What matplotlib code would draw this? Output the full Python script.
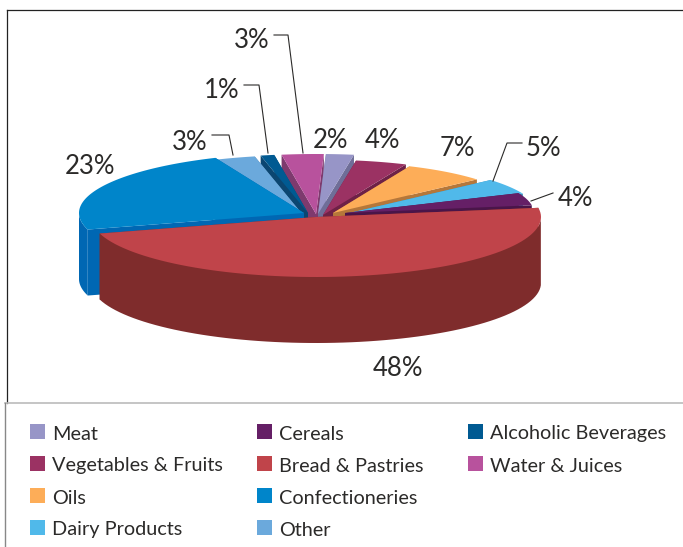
import numpy as np
import matplotlib
matplotlib.use('Agg')
import matplotlib.pyplot as plt

# values in percent, clockwise from the top
categories = ['Meat', 'Vegetables & Fruits', 'Oils', 'Dairy Products', 'Cereals',
              'Bread & Pastries', 'Confectioneries', 'Other', 'Alcoholic Beverages',
              'Water & Juices']
values = [2, 4, 7, 5, 4, 48, 23, 3, 1, 3]

colors = ['#9795C7', '#9B3263', '#FDAD58', '#50B9EA', '#651F66',
          '#C0444A', '#0085CA', '#6BA9DC', '#005A92', '#B8529D']
sides = ['#6F6E98', '#6E2147', '#B5773A', '#3A8FB8', '#4A1549',
         '#7F2C2C', '#0067B3', '#5A86AE', '#0B4671', '#7E3A6E']
# how far each slice is pulled out of the pie, in pixels, and its size
offsets = [(2, 1), (7, 2), (17, 0), (29, 1), (29, 0),
           (0, 4), (-12, 0), (-13, 2), (-8, 0), (0, 1)]
scales = [1, 0.92, 0.85, 0.86, 0.84, 1, 1, 1, 0.98, 1]

cx, cy = 316, 213
rx, ry = 225, 60
depth = 66
start_angle = 2

fig = plt.figure(figsize=(6.83, 5.47), dpi=100)
plt.rcParams['font.family'] = ['Lato', 'DejaVu Sans']
ax = fig.add_axes([0, 0, 1, 1])
ax.set_xlim(0, 683)
ax.set_ylim(547, 0)
ax.axis('off')


def rim(a, ox, oy, k):
    t = np.radians(a)
    return ox + k * rx * np.sin(t), oy - k * ry * np.cos(t)


ends = np.cumsum(values) * 3.6 + start_angle
starts = ends - np.array(values) * 3.6
order = np.argsort([-np.cos(np.radians((s + e) / 2)) for s, e in zip(starts, ends)])

for pos, i in enumerate(order):
    s, e = starts[i], ends[i]
    k = scales[i]
    ox, oy = cx + offsets[i][0], cy + offsets[i][1]
    a = np.linspace(s, e, 80)
    x, y = rim(a, ox, oy, k)
    z = 1 + pos * 0.01
    # radial walls first, then the outer wall
    for end_a in (s, e):
        px, py = rim(end_a, ox, oy, k)
        ax.fill([ox, px, px, ox], [oy, py, py + depth, oy + depth],
                color=sides[i], lw=0, zorder=z)
    front = np.cos(np.radians(a)) < 0
    if front.any():
        fx, fy = x[front], y[front]
        ax.fill(np.r_[fx, fx[::-1]], np.r_[fy, fy[::-1] + depth],
                color=sides[i], lw=0, zorder=z)
    ax.fill(np.r_[ox, x], np.r_[oy, y], color=colors[i], lw=0, zorder=z + 0.001)

# percent labels
label_xy = [(331, 141), (382, 141), (457, 149), (543, 148), (575, 199),
            (398, 369), (90, 166), (190, 142), (222, 91), (252, 41)]
for v, (x, y) in zip(values, label_xy):
    ax.text(x, y, f'{v}%', fontsize=18.5, color='#2b2a29', ha='center', va='center', zorder=5)

# leader lines
leaders = [([212, 229, 233], [135, 135, 155]),
           ([244, 259, 268], [85, 85, 153]),
           ([274, 288, 303], [35, 35, 153]),
           ([522, 507, 493], [143, 143, 181]),
           ([553, 531], [193, 201])]
for lx, ly in leaders:
    ax.plot(lx, ly, color='#2b2a29', lw=0.8, zorder=5)

# frame
ax.plot([7, 7], [10, 403], color='#222222', lw=0.9)
ax.plot([7, 683], [10, 10], color='#222222', lw=0.9)
ax.plot([5, 683], [403, 403], color='#bbbbbb', lw=1.2)
ax.plot([5, 5], [403, 547], color='#888888', lw=1.0)

# legend, filled column by column
legend_x = [30, 257, 468]
legend_y = [432, 464, 496, 528]
for n, name in enumerate(categories):
    col = n // 4
    row = n % 4
    lx, ly = legend_x[col], legend_y[row]
    ax.add_patch(plt.Rectangle((lx, ly - 8), 15, 15, color=colors[n], lw=0))
    ax.text(lx + 22, ly + 2, name, fontsize=14.3, color='#2b2a29', va='center')

fig.savefig('out.png', dpi=100)
